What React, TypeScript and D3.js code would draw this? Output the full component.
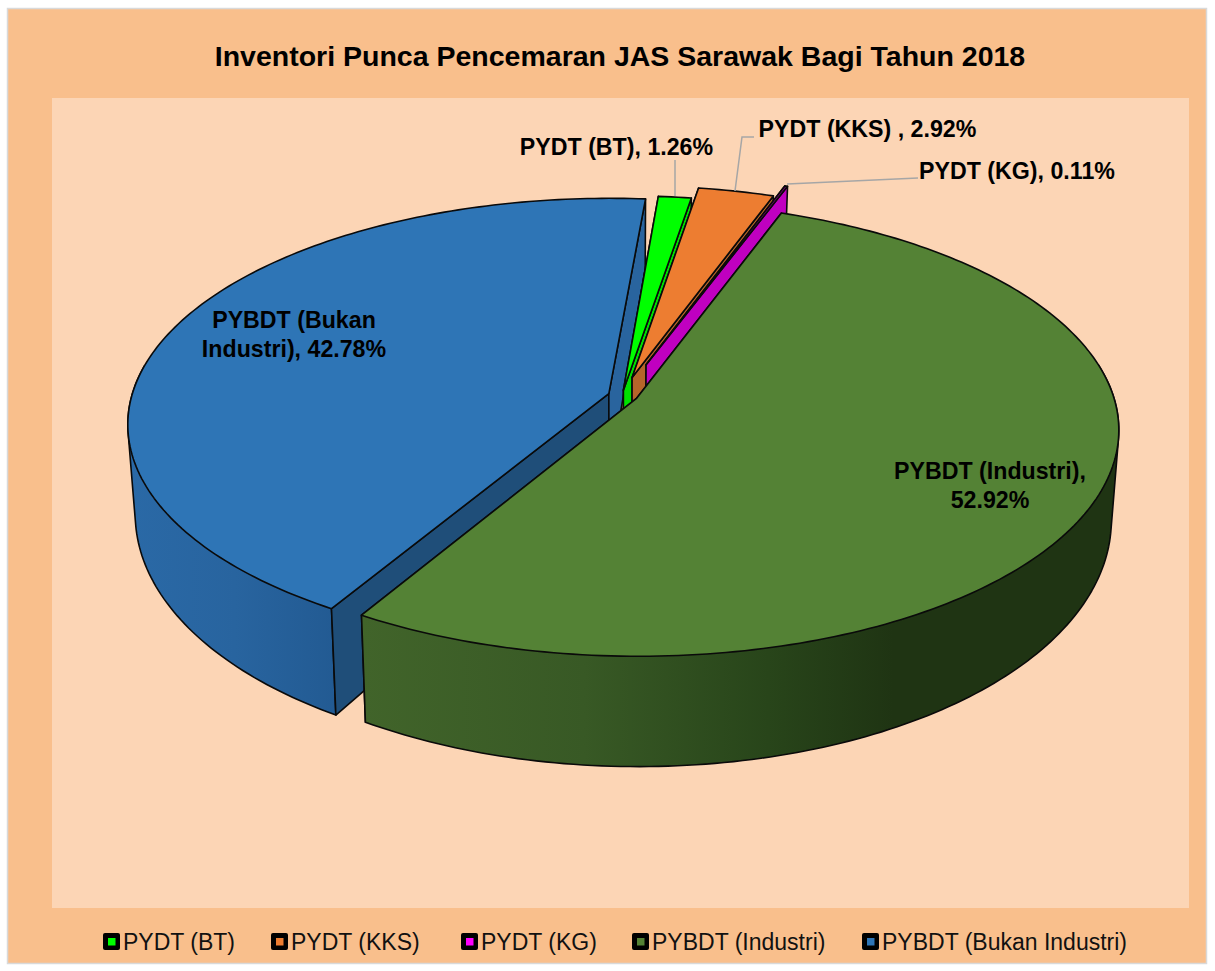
import React from "react";
import * as d3 from "d3";

const categories = ["PYDT (BT)", "PYDT (KKS)", "PYDT (KG)", "PYBDT (Industri)", "PYBDT (Bukan Industri)"];
const shares = [1.26, 2.92, 0.11, 52.92, 42.78];
const explode = [0.024, 0.085, 0.15, 0.033, 0.029];
const topColors = ["#00ff00", "#ed7d31", "#7f007f", "#548235", "#2e75b6"];
const legendColors = ["#00ff00", "#ed7d31", "#ff00ff", "#548235", "#2e75b6"];
const leftFace = ["#00e000", "#b5652a", "#c000c0", "#3f6229", "#1f4e79"];
const rightFace = ["#00a800", "#b5652a", "#c000c0", "#3f6229", "#29649e"];
const title = "Inventori Punca Pencemaran JAS Sarawak Bagi Tahun 2018";
const legendX = [103, 271, 461, 632, 862];

const dataLabels = [
  { lines: ["PYDT (BT), 1.26%"], x: 616.5, y: 155 },
  { lines: ["PYDT (KKS) , 2.92%"], x: 867.5, y: 137 },
  { lines: ["PYDT (KG), 0.11%"], x: 1017, y: 179 },
  { lines: ["PYBDT (Industri),", "52.92%"], x: 990, y: 479 },
  { lines: ["PYBDT (Bukan", "Industri), 42.78%"], x: 294, y: 328 },
];
const leaders = [
  [[675, 160], [675, 196]],
  [[754, 137], [742, 137], [735, 191]],
  [[918, 178], [787, 184]],
];

const W = 1215, H = 971;
const cx = 622, cy = 395.5, B = 477, A = 222, k = 0.1346;
const startDeg = 4.8;

type P = [number, number];
const rad = (d: number) => (d * Math.PI) / 180;

const project = (u: number, v: number): P => {
  const w = 1 + k * v;
  return [cx + (B * u) / w, cy - (A * v) / w];
};
const dropped = (u: number, v: number): P => {
  const [x, y] = project(u, v);
  return [cx + (x - cx) * 0.985, y + 86 - (v < 0 ? 24 : 16) * v];
};

const pieGen = d3.pie<number>().sort(null).startAngle(rad(startDeg)).endAngle(rad(startDeg) + 2 * Math.PI);
const arcs = pieGen(shares);
const line = d3.line<P>();

const slices = arcs.map((a, i) => {
  const mid = (a.startAngle + a.endAngle) / 2;
  const ou = explode[i] * Math.sin(mid), ov = explode[i] * Math.cos(mid);
  const n = Math.max(2, Math.ceil((a.endAngle - a.startAngle) / rad(1)));
  const rim = d3.range(n + 1).map((j) => {
    const t = a.startAngle + ((a.endAngle - a.startAngle) * j) / n;
    return [ou + Math.sin(t), ov + Math.cos(t)] as P;
  });
  const apex = project(ou, ov);
  const apexLow = dropped(ou, ov);
  const top = rim.map(([u, v]) => project(u, v));
  const low = rim.map(([u, v]) => dropped(u, v));
  const front = rim.filter(([, v]) => v <= 0.15);
  const hull = d3.polygonHull([
    ...front.map(([u, v]) => project(u, v)),
    ...front.map(([u, v]) => dropped(u, v)),
  ]);
  return {
    i,
    topPath: line([apex, ...top])! + "Z",
    wallPath: hull ? line(hull as P[])! + "Z" : "",
    startFace: line([apex, top[0], low[0], apexLow])! + "Z",
    endFace: line([apex, top[n], low[n], apexLow])! + "Z",
  };
});

const paintOrder = [4, 0, 1, 2, 3];
const stroke = { stroke: "#0a0a0a", strokeWidth: 1.6, strokeLinejoin: "round" as const };
const font = "'Liberation Sans', Arial, sans-serif";

export default function App() {
  return (
    <svg width={W} height={H} style={{ position: "absolute", left: 0, top: 0, background: "#fff" }} fontFamily={font}>
      <defs>
        <linearGradient id="wall3" gradientUnits="userSpaceOnUse" x1={363} x2={1100} y1={0} y2={0}>
          <stop offset="0" stopColor="#41642a" />
          <stop offset="0.3" stopColor="#385925" />
          <stop offset="0.55" stopColor="#28451a" />
          <stop offset="0.72" stopColor="#1f3413" />
          <stop offset="1" stopColor="#1f3413" />
        </linearGradient>
        <linearGradient id="wall4" gradientUnits="userSpaceOnUse" x1={130} x2={340} y1={0} y2={0}>
          <stop offset="0" stopColor="#2a69a6" />
          <stop offset="0.5" stopColor="#28649f" />
          <stop offset="1" stopColor="#225a92" />
        </linearGradient>
      </defs>
      <rect x={7.5} y={8.5} width={1199} height={955} fill="#f9bf8c" stroke="#d9d9d9" strokeWidth={1.5} />
      <rect x={52} y={98} width={1137} height={810} fill="#fcd5b5" />
      <text x={620} y={66} textAnchor="middle" fontWeight="bold" fontSize={28.5} fill="#000">{title}</text>
      {paintOrder.map((i) => {
        const s = slices[i];
        const wallFill = i === 3 ? "url(#wall3)" : "url(#wall4)";
        const wall = i >= 3 ? <path d={s.wallPath} fill={wallFill} {...stroke} /> : null;
        return (
          <g key={categories[i]}>
            {i === 4 ? wall : null}
            <path d={s.startFace} fill={i === 4 ? leftFace[i] : rightFace[i]} {...stroke} />
            <path d={s.endFace} fill={i === 4 ? rightFace[i] : leftFace[i]} {...stroke} />
            {i === 3 ? wall : null}
            <path d={s.topPath} fill={topColors[i]} {...stroke} />
          </g>
        );
      })}
      {leaders.map((l, i) => (
        <path key={i} d={line(l as P[])!} fill="none" stroke="#a6a6a6" strokeWidth={1.5} />
      ))}
      {dataLabels.map((d) => (
        <text key={d.lines[0]} textAnchor="middle" fontWeight="bold" fontSize={23.2} fill="#000">
          {d.lines.map((t, j) => (
            <tspan key={t} x={d.x} y={d.y + j * 28.5}>{t}</tspan>
          ))}
        </text>
      ))}
      {categories.map((c, i) => (
        <g key={c}>
          <rect x={legendX[i]} y={933} width={17} height={17} rx={2} fill="#000" />
          <rect x={legendX[i] + 5} y={938} width={7.5} height={7.5} fill={legendColors[i]} />
          <text x={legendX[i] + 20} y={950} fontSize={23} fill="#111">{c}</text>
        </g>
      ))}
    </svg>
  );
}
